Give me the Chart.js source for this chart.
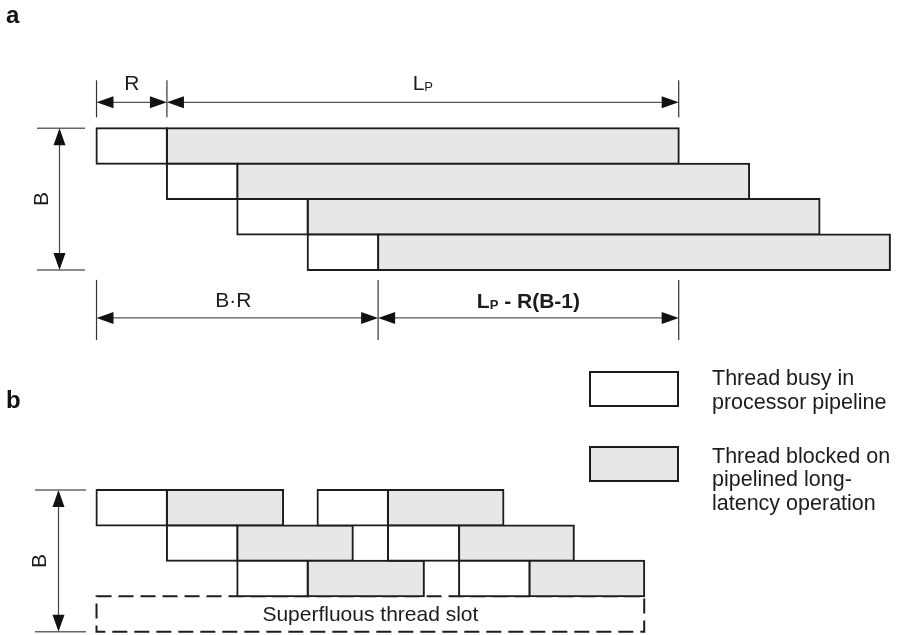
<!DOCTYPE html>
<html><head><meta charset="utf-8">
<script src="https://cdn.jsdelivr.net/npm/chart.js@4/dist/chart.umd.min.js"></script>
<style>html,body{margin:0;padding:0;background:#fff}#wrap{width:898px;height:635px;position:relative}</style>
</head><body><div id="wrap"><canvas id="c" width="898" height="635"></canvas></div>
<script>
// ---------------- data (time in units of R, y = thread slot rows) ----------------
const R = 1;            // pipeline residence of one thread
const LP = 7.27;        // pipelined long-latency L_P
const B = 4;            // number of threads (panel a)
const panelLabels = ['a', 'b'];

const rowsA = [0, 1, 2, 3];
const busyA = [[0, 1], [1, 2], [2, 3], [3, 4]];
const blockedA = [[1, 8.27], [2, 9.27], [3, 10.27], [4, 11.27]];

const rowsB = [10.22, 10.22, 11.22, 11.22, 12.22, 12.22];
const busyB = [[0, 1], [3.14, 4.14], [1, 2], [4.14, 5.15], [2, 3], [5.15, 6.15]];
const blockedB = [[1, 2.65], [4.14, 5.78], [2, 3.64], [5.15, 6.78], [3, 4.65], [6.15, 7.78]];
const slotRowB = [13.22];
const slotB = [[0, 7.78]];

const seriesNames = ['Thread busy in processor pipeline',
                     'Thread blocked on pipelined long-latency operation',
                     'Superfluous thread slot'];
const legendLines = [['Thread busy in', 'processor pipeline'],
                     ['Thread blocked on', 'pipelined long-', 'latency operation']];
const slotText = 'Superfluous thread slot';
// -------------------------------------------------------------------------------

const FONT = '"Liberation Sans", Arial, Helvetica, sans-serif';
const INK = '#1c1c1c';
const FILL_BUSY = '#ffffff';
const FILL_BLOCKED = '#e6e7e6';

const busyData = busyA.map((s, i) => ({ y: rowsA[i], x: s }))
  .concat(busyB.map((s, i) => ({ y: rowsB[i], x: s })));
const blockedData = blockedA.map((s, i) => ({ y: rowsA[i], x: s }))
  .concat(blockedB.map((s, i) => ({ y: rowsB[i], x: s })));
const slotData = slotB.map((s, i) => ({ y: slotRowB[i], x: s }));

function arrowHead(ctx, x, y, dx, dy) {
  const L = 17, W = 6;
  const px = -dy, py = dx;
  ctx.beginPath();
  ctx.moveTo(x, y);
  ctx.lineTo(x - dx * L + px * W, y - dy * L + py * W);
  ctx.lineTo(x - dx * L - px * W, y - dy * L - py * W);
  ctx.closePath();
  ctx.fillStyle = '#111';
  ctx.fill();
}
function line(ctx, x1, y1, x2, y2, w, c) {
  ctx.beginPath(); ctx.moveTo(x1, y1); ctx.lineTo(x2, y2);
  ctx.lineWidth = w; ctx.strokeStyle = c; ctx.stroke();
}
function hDim(ctx, x1, x2, y) {
  line(ctx, x1 + 10, y, x2 - 10, y, 1.2, '#555');
  arrowHead(ctx, x1, y, -1, 0);
  arrowHead(ctx, x2, y, 1, 0);
}
function vDim(ctx, x, y1, y2) {
  line(ctx, x, y1 + 10, x, y2 - 10, 1.2, '#444');
  arrowHead(ctx, x, y1, 0, -1);
  arrowHead(ctx, x, y2, 0, 1);
}
function subText(ctx, parts, cx, y, bold, size) {
  // parts: [main, sub, rest]
  const w = bold ? 'bold ' : '';
  const big = w + size + 'px ' + FONT, small = w + Math.round(size * 0.62) + 'px ' + FONT;
  ctx.font = big; const w1 = ctx.measureText(parts[0]).width;
  const w3 = parts[2] ? ctx.measureText(parts[2]).width : 0;
  ctx.font = small; const w2 = ctx.measureText(parts[1]).width;
  let x = cx - (w1 + w2 + w3) / 2;
  ctx.textAlign = 'left'; ctx.textBaseline = 'alphabetic'; ctx.fillStyle = INK;
  ctx.font = big; ctx.fillText(parts[0], x, y); x += w1;
  ctx.font = small; ctx.fillText(parts[1], x, y + 1); x += w2;
  if (parts[2]) { ctx.font = big; ctx.fillText(parts[2], x, y); }
}
function rotB(ctx, cx, cy, size) {
  ctx.save(); ctx.translate(cx, cy); ctx.rotate(-Math.PI / 2);
  ctx.font = size + 'px ' + FONT; ctx.textAlign = 'center'; ctx.textBaseline = 'alphabetic';
  ctx.fillStyle = INK; ctx.fillText('B', 0, size * 0.36);
  ctx.restore();
}

const diagram = {
  id: 'diagram',
  beforeDatasetsDraw(chart) {
    const ctx = chart.ctx;
    chart.getDatasetMeta(2).data.forEach(el => {
      const p = el.getProps(['x', 'y', 'base', 'height'], true);
      const l = Math.min(p.x, p.base), r = Math.max(p.x, p.base);
      const t = p.y - p.height / 2, b = p.y + p.height / 2;
      ctx.save(); ctx.setLineDash([15, 7]); ctx.lineWidth = 2; ctx.strokeStyle = INK;
      ctx.strokeRect(l, t, r - l, b - t); ctx.restore();
    });
  },
  afterDatasetsDraw(chart) {
    const ctx = chart.ctx;
    const X = v => chart.scales.x.getPixelForValue(v);
    const Y = v => chart.scales.y.getPixelForValue(v);
    const h = Y(1) - Y(0);
    ctx.save();

    // superfluous slot text
    chart.getDatasetMeta(2).data.forEach(el => {
      const p = el.getProps(['x', 'y', 'base'], true);
      ctx.font = '21px ' + FONT; ctx.fillStyle = INK; ctx.textAlign = 'center'; ctx.textBaseline = 'alphabetic';
      ctx.fillText(slotText, (p.x + p.base) / 2, p.y + 7.5);
    });

    // ---- panel a dimensions ----
    const aTop = Y(rowsA[0]) - h / 2, aBot = Y(rowsA[rowsA.length - 1]) + h / 2;
    const t0 = busyA[0][0];
    const x0 = X(t0), xR = X(t0 + R), xL = X(t0 + R + LP), xBR = X(t0 + B * R);

    const yd = aTop - 26;
    [x0, xR, xL].forEach(x => line(ctx, x, aTop - 48, x, aTop - 11, 1.2, '#333'));
    hDim(ctx, x0, xR, yd); hDim(ctx, xR, xL, yd);
    ctx.font = '21px ' + FONT; ctx.fillStyle = INK; ctx.textAlign = 'center'; ctx.textBaseline = 'alphabetic';
    ctx.fillText('R', (x0 + xR) / 2, aTop - 38.5);
    subText(ctx, ['L', 'P', ''], (xR + xL) / 2, aTop - 38, false, 21);

    // B vertical (a)
    line(ctx, 37, aTop, 85, aTop, 1.5, '#666');
    line(ctx, 37, aBot, 85, aBot, 1.5, '#666');
    vDim(ctx, 59.5, aTop, aBot);
    rotB(ctx, 40, (aTop + aBot) / 2, 21);

    // bottom dims
    const yb = aBot + 48;
    [x0, xBR, xL].forEach(x => line(ctx, x, aBot + 10, x, aBot + 70, 1.2, '#333'));
    hDim(ctx, x0, xBR, yb); hDim(ctx, xBR, xL, yb);
    ctx.font = '21px ' + FONT; ctx.fillStyle = INK; ctx.textAlign = 'center';
    ctx.fillText('B\u00B7R', (x0 + xBR) / 2 - 4, aBot + 37);
    subText(ctx, ['L', 'P', ' - R(B-1)'], (xBR + xL) / 2, aBot + 38, true, 21);

    // ---- panel b dimension ----
    const bTop = Y(rowsB[0]) - h / 2, bBot = Y(slotRowB[0]) + h / 2;
    line(ctx, 35, bTop, 86, bTop, 1.5, '#666');
    line(ctx, 35, bBot, 86, bBot, 1.5, '#666');
    vDim(ctx, 58.5, bTop, bBot);
    rotB(ctx, 38, (bTop + bBot) / 2, 21);

    // panel labels
    ctx.font = 'bold 24px ' + FONT; ctx.textAlign = 'left'; ctx.fillStyle = '#111';
    ctx.fillText(panelLabels[0], 6, 23);
    ctx.fillText(panelLabels[1], 6, 408);

    // legend
    const ds = chart.data.datasets;
    const boxes = [{ y: 371, lines: legendLines[0], base: 385 }, { y: 446, lines: legendLines[1], base: 462.5 }];
    boxes.forEach((b, i) => {
      ctx.fillStyle = ds[i].backgroundColor; ctx.fillRect(590, b.y + 1, 88, 34);
      ctx.lineWidth = 2; ctx.strokeStyle = ds[i].borderColor; ctx.strokeRect(590, b.y + 1, 88, 34);
      ctx.font = '21.5px ' + FONT; ctx.fillStyle = INK; ctx.textAlign = 'left';
      b.lines.forEach((t, k) => ctx.fillText(t, 712, b.base + k * 23.5));
    });
    ctx.restore();
  }
};

new Chart(document.getElementById('c'), {
  type: 'bar',
  data: {
    datasets: [
      { label: seriesNames[0], data: busyData, backgroundColor: FILL_BUSY, borderColor: INK },
      { label: seriesNames[1], data: blockedData, backgroundColor: FILL_BLOCKED, borderColor: INK },
      { label: seriesNames[2], data: slotData, backgroundColor: 'rgba(0,0,0,0)', borderColor: 'rgba(0,0,0,0)', borderWidth: 0, inflateAmount: 0 }
    ]
  },
  options: {
    indexAxis: 'y',
    responsive: false,
    animation: false,
    events: [],
    devicePixelRatio: 1,
    layout: { padding: 0 },
    datasets: { bar: { grouped: false, barThickness: 35.4, borderWidth: 2, borderSkipped: false, inflateAmount: 1 } },
    scales: {
      x: { type: 'linear', min: -1.371, max: 11.385, display: false, offset: false },
      y: { type: 'linear', min: -4.124, max: 13.814, reverse: true, display: false, offset: false }
    },
    plugins: { legend: { display: false }, tooltip: { enabled: false }, title: { display: false } }
  },
  plugins: [diagram]
});
</script></body></html>
